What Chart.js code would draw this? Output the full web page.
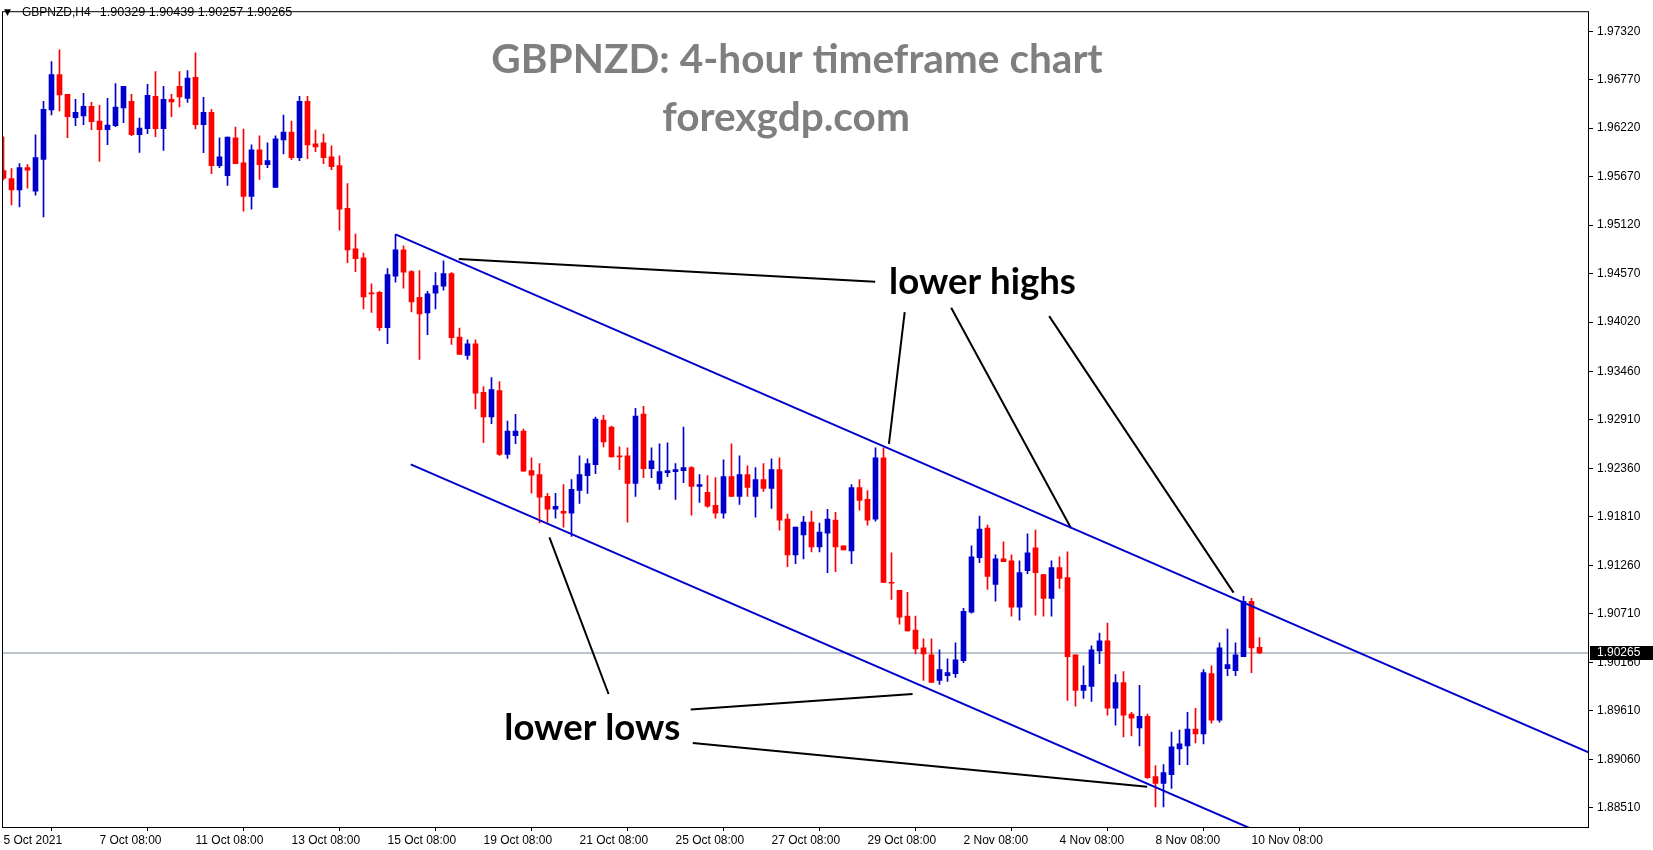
<!DOCTYPE html>
<html>
<head>
<meta charset="utf-8">
<script src="https://cdn.jsdelivr.net/npm/chart.js@4.4.0/dist/chart.umd.min.js"></script>
<style>
  html, body { margin: 0; padding: 0; background: #fff; }
  canvas { display: block; }
</style>
</head>
<body>
<canvas id="chart" width="1653" height="850"></canvas>
<script>
// GBPNZD H4, one entry per bar from 5 Oct 08:00 to 10 Nov 12:00
const opens = [
  1.95739, 1.95649, 1.95518, 1.95772, 1.95506, 1.95866, 1.96428, 1.96828, 1.96604, 1.96338,
  1.96360, 1.96469, 1.96300, 1.96203, 1.96248, 1.96450, 1.96525, 1.96147, 1.96214, 1.96581,
  1.96214, 1.96547, 1.96694, 1.96558, 1.96797, 1.96259, 1.96401, 1.95794, 1.95682, 1.96109,
  1.95828, 1.95446, 1.95974, 1.95806, 1.95547, 1.96087, 1.96176, 1.95884, 1.96525, 1.96042,
  1.96053, 1.95896, 1.95794, 1.95311, 1.94851, 1.94750, 1.94353, 1.94356, 1.93956, 1.94540,
  1.94839, 1.94592, 1.94300, 1.94124, 1.94349, 1.94427, 1.94570, 1.93851, 1.93641, 1.93772,
  1.93222, 1.92944, 1.93244, 1.92518, 1.92731, 1.92783, 1.92334, 1.92289, 1.92042, 1.91896,
  1.91873, 1.91851, 1.92109, 1.92278, 1.92402, 1.92907, 1.92828, 1.92503, 1.92503, 1.92188,
  1.92975, 1.92357, 1.92188, 1.92312, 1.92323, 1.92334, 1.92368, 1.92154, 1.92087, 1.91941,
  1.91851, 1.92267, 1.92042, 1.92289, 1.92042, 1.92233, 1.92132, 1.92345, 1.91784, 1.91379,
  1.91604, 1.91750, 1.91469, 1.91626, 1.91772, 1.91480, 1.91424, 1.92143, 1.92008, 1.91784,
  1.92480, 1.91065, 1.90975, 1.90683, 1.90526, 1.90324, 1.90245, 1.89953, 1.90009, 1.90031,
  1.90178, 1.90728, 1.91346, 1.91683, 1.91043, 1.91335, 1.91312, 1.90784, 1.91200, 1.91458,
  1.91155, 1.90885, 1.91234, 1.91121, 1.90245, 1.89841, 1.89886, 1.90290, 1.90402, 1.89638,
  1.89930, 1.89571, 1.89414, 1.89548, 1.88863, 1.88785, 1.88886, 1.89178, 1.89211, 1.89402,
  1.89346, 1.90032, 1.89504, 1.90088, 1.90065, 1.90223, 1.90852, 1.90329
];
const highs = [
  1.96121, 1.95761, 1.95817, 1.95806, 1.96143, 1.96525, 1.96974, 1.97109, 1.96604, 1.96547,
  1.96615, 1.96514, 1.96480, 1.96559, 1.96727, 1.96694, 1.96604, 1.96334, 1.96716, 1.96862,
  1.96694, 1.96604, 1.96862, 1.96873, 1.97075, 1.96570, 1.96435, 1.96109, 1.96120, 1.96233,
  1.96210, 1.96030, 1.96132, 1.96053, 1.96132, 1.96367, 1.96300, 1.96581, 1.96581, 1.96199,
  1.96154, 1.96019, 1.95907, 1.95592, 1.95019, 1.94802, 1.94454, 1.94368, 1.94626, 1.95015,
  1.94884, 1.94603, 1.94603, 1.94368, 1.94581, 1.94716, 1.94581, 1.93952, 1.93817, 1.93817,
  1.93289, 1.93390, 1.93345, 1.92896, 1.92974, 1.92806, 1.92480, 1.92413, 1.92076, 1.92076,
  1.92177, 1.92233, 1.92503, 1.92469, 1.92941, 1.92963, 1.92840, 1.92604, 1.92593, 1.93042,
  1.93064, 1.92593, 1.92637, 1.92649, 1.92413, 1.92828, 1.92379, 1.92289, 1.92278, 1.92255,
  1.92458, 1.92638, 1.92503, 1.92390, 1.92368, 1.92413, 1.92469, 1.92480, 1.91840, 1.91694,
  1.91817, 1.91874, 1.91739, 1.91896, 1.91862, 1.91480, 1.92177, 1.92233, 1.92109, 1.92593,
  1.92593, 1.91402, 1.90975, 1.90953, 1.90683, 1.90425, 1.90425, 1.90301, 1.90200, 1.90380,
  1.90773, 1.91481, 1.91818, 1.91717, 1.91380, 1.91526, 1.91380, 1.91312, 1.91616, 1.91661,
  1.91155, 1.91312, 1.91357, 1.91413, 1.90245, 1.90121, 1.90346, 1.90492, 1.90605, 1.90020,
  1.90054, 1.89593, 1.89897, 1.89571, 1.88987, 1.88998, 1.89369, 1.89391, 1.89593, 1.89638,
  1.90077, 1.90121, 1.90380, 1.90537, 1.90380, 1.90908, 1.90885, 1.90439
];
const lows = [
  1.95634, 1.95349, 1.95327, 1.95540, 1.95461, 1.95214, 1.96371, 1.96416, 1.96113, 1.96248,
  1.96259, 1.96203, 1.95843, 1.96034, 1.96237, 1.96282, 1.96136, 1.95945, 1.96158, 1.96124,
  1.95967, 1.96349, 1.96461, 1.96513, 1.96210, 1.95941, 1.95705, 1.95772, 1.95570, 1.95817,
  1.95278, 1.95300, 1.95637, 1.95772, 1.95547, 1.95929, 1.95862, 1.95851, 1.95873, 1.95952,
  1.95817, 1.95750, 1.95064, 1.94693, 1.94592, 1.94169, 1.94128, 1.93922, 1.93776, 1.94472,
  1.94405, 1.94135, 1.93596, 1.93877, 1.94169, 1.94383, 1.93765, 1.93652, 1.93596, 1.93034,
  1.92652, 1.92866, 1.92506, 1.92473, 1.92641, 1.92327, 1.92079, 1.91742, 1.91750, 1.91795,
  1.91694, 1.91589, 1.91963, 1.92076, 1.92300, 1.92604, 1.92491, 1.92345, 1.91750, 1.92042,
  1.92255, 1.92255, 1.92121, 1.92267, 1.92008, 1.92199, 1.91829, 1.91975, 1.91918, 1.91795,
  1.91795, 1.92042, 1.91952, 1.92042, 1.91806, 1.92098, 1.91907, 1.91660, 1.91244, 1.91278,
  1.91334, 1.91413, 1.91413, 1.91177, 1.91188, 1.91435, 1.91278, 1.91885, 1.91716, 1.91761,
  1.91065, 1.90874, 1.90593, 1.90515, 1.90256, 1.89953, 1.89930, 1.89908, 1.89942, 1.89987,
  1.90155, 1.90717, 1.91290, 1.90987, 1.90852, 1.91301, 1.90683, 1.90638, 1.91166, 1.90694,
  1.90683, 1.90683, 1.90998, 1.89728, 1.89661, 1.89751, 1.89717, 1.90144, 1.89560, 1.89447,
  1.89313, 1.89324, 1.89211, 1.88841, 1.88519, 1.88519, 1.88728, 1.88998, 1.88998, 1.89245,
  1.89234, 1.89470, 1.89481, 1.90009, 1.90009, 1.90223, 1.90043, 1.90257
];
const closes = [
  1.95652, 1.95518, 1.95772, 1.95742, 1.95885, 1.96435, 1.96828, 1.96596, 1.96349, 1.96401,
  1.96469, 1.96293, 1.96203, 1.96255, 1.96458, 1.96694, 1.96147, 1.96222, 1.96592, 1.96214,
  1.96547, 1.96518, 1.96574, 1.96788, 1.96259, 1.96401, 1.95794, 1.95896, 1.96120, 1.95817,
  1.95446, 1.95974, 1.95806, 1.95851, 1.96098, 1.96176, 1.95884, 1.96525, 1.96030, 1.96008,
  1.95884, 1.95783, 1.95300, 1.94839, 1.94738, 1.94304, 1.94340, 1.93956, 1.94559, 1.94839,
  1.94585, 1.94248, 1.94113, 1.94340, 1.94435, 1.94570, 1.93843, 1.93652, 1.93772, 1.93214,
  1.92944, 1.93255, 1.92518, 1.92783, 1.92783, 1.92327, 1.92282, 1.92034, 1.91896, 1.91930,
  1.91851, 1.92121, 1.92289, 1.92413, 1.92918, 1.92660, 1.92491, 1.92491, 1.92188, 1.92952,
  1.92357, 1.92446, 1.92323, 1.92334, 1.92345, 1.92368, 1.92154, 1.92177, 1.91930, 1.91851,
  1.92267, 1.92042, 1.92289, 1.92143, 1.92233, 1.92132, 1.92345, 1.91772, 1.91379, 1.91694,
  1.91750, 1.91469, 1.91638, 1.91784, 1.91469, 1.91435, 1.92143, 1.91997, 1.91772, 1.92480,
  1.91065, 1.91057, 1.90671, 1.90515, 1.90312, 1.90256, 1.89930, 1.90076, 1.90043, 1.90189,
  1.90739, 1.91357, 1.91672, 1.91133, 1.91335, 1.91301, 1.90784, 1.91177, 1.91402, 1.91177,
  1.90885, 1.91234, 1.91110, 1.90223, 1.89840, 1.89897, 1.90301, 1.90402, 1.89638, 1.89930,
  1.89560, 1.89526, 1.89548, 1.88852, 1.88785, 1.88908, 1.89200, 1.89234, 1.89402, 1.89346,
  1.90043, 1.89504, 1.90324, 1.90133, 1.90245, 1.90852, 1.90324, 1.90265
];

const xTickIdx = [0, 12, 24, 36, 48, 60, 72, 84, 96, 108, 120, 132, 144, 156];
const xTickLabels = ['5 Oct 2021', '7 Oct 08:00', '11 Oct 08:00', '13 Oct 08:00', '15 Oct 08:00',
  '19 Oct 08:00', '21 Oct 08:00', '25 Oct 08:00', '27 Oct 08:00', '29 Oct 08:00',
  '2 Nov 08:00', '4 Nov 08:00', '8 Nov 08:00', '10 Nov 08:00'];
const yTicks = [1.97320, 1.96770, 1.96220, 1.95670, 1.95120, 1.94570, 1.94020, 1.93460, 1.92910,
  1.92360, 1.91810, 1.91260, 1.90710, 1.90160, 1.89610, 1.89060, 1.88510];

// drawn objects, as [bar index, price] pairs
const upperChannel = [[49, 1.95015], [198.2, 1.89136]];
const lowerChannel = [[50.9, 1.92405], [156, 1.88270]];
const pointerLines = [
  [[56.91, 1.94735], [108.96, 1.94478]],
  [[112.65, 1.94134], [110.68, 1.92638]],
  [[118.46, 1.94183], [133.43, 1.91683]],
  [[130.71, 1.94087], [153.76, 1.90950]],
  [[75.63, 1.89800], [68.24, 1.91576]],
  [[85.90, 1.89623], [113.63, 1.89799]],
  [[86.16, 1.89243], [142.96, 1.88747]]
];
const notes = [
  { text: 'lower highs', at: [110.7, 1.94469] },
  { text: 'lower lows', at: [62.6, 1.89414] }
];
const symbolText = 'GBPNZD,H4';
const titleText = 'GBPNZD: 4-hour timeframe chart';
const siteText = 'forexgdp.com';

const BULL = '#0000cc';
const BEAR = '#ff0000';
const lastIdx = closes.length - 1;
const lastClose = closes[lastIdx];
const colors = closes.map((c, i) => c >= opens[i] ? BULL : BEAR);

const toXY = pts => pts.map(p => ({ x: p[0], y: p[1] }));
const lineSet = (pts, color) => ({
  type: 'line', data: toXY(pts), borderColor: color, borderWidth: 2,
  pointRadius: 0, tension: 0, order: 0
});

const datasets = [
  {
    type: 'bar', order: 1, grouped: false, barThickness: 5, minBarLength: 1,
    data: opens.map((o, i) => ({ x: i, y: [o, closes[i]] })),
    backgroundColor: colors
  },
  {
    type: 'bar', order: 2, grouped: false, barThickness: 1,
    data: lows.map((l, i) => ({ x: i, y: [l, highs[i]] })),
    backgroundColor: colors
  },
  {
    type: 'line', order: 3, borderColor: '#778899', borderWidth: 1, pointRadius: 0,
    data: [{ x: -1, y: lastClose }, { x: 200, y: lastClose }]
  },
  lineSet(upperChannel, '#0000cd'),
  lineSet(lowerChannel, '#0000cd'),
  ...pointerLines.map(p => lineSet(p, '#000000'))
];

const overlay = {
  id: 'overlay',
  afterDraw(chart) {
    const ctx = chart.ctx, a = chart.chartArea;
    const xs = chart.scales.x, ys = chart.scales.y;
    ctx.save();

    // frame
    ctx.strokeStyle = '#000';
    ctx.lineWidth = 1;
    ctx.strokeRect(a.left + 0.5, a.top + 0.5, a.right - a.left - 1, a.bottom - a.top);

    // header line
    ctx.fillStyle = '#000';
    ctx.textBaseline = 'middle';
    ctx.font = '9px "DejaVu Sans"';
    ctx.fillText('\u25BC', 4, 13);
    ctx.font = '12px "Liberation Sans"';
    ctx.fillText(symbolText, 22, 13);
    const priceX = Math.max(96, 22 + ctx.measureText(symbolText).width + 9);
    const ohlc = [opens[lastIdx], highs[lastIdx], lows[lastIdx], closes[lastIdx]]
      .map(v => v.toFixed(5)).join(' ');
    ctx.font = '12.6px "Liberation Sans"';
    ctx.fillText(ohlc, priceX, 13);

    // current price box on the axis
    const py = Math.round(ys.getPixelForValue(lastClose));
    ctx.fillStyle = '#000';
    ctx.fillRect(a.right + 1, py - 7, chart.width - a.right - 1, 14);
    ctx.fillStyle = '#fff';
    ctx.font = '12px "Liberation Sans"';
    ctx.fillText(lastClose.toFixed(5), a.right + 8, py);

    // title
    ctx.fillStyle = '#7f7f7f';
    ctx.textAlign = 'center';
    ctx.textBaseline = 'alphabetic';
    ctx.font = 'bold 40px Lato';
    const ts = 40 * 612 / ctx.measureText(titleText).width;
    ctx.font = 'bold ' + ts.toFixed(1) + 'px Lato';
    ctx.fillText(titleText, 797, 73);
    ctx.fillText(siteText, 786, 131);

    // notes
    ctx.fillStyle = '#000';
    ctx.textAlign = 'left';
    ctx.textBaseline = 'middle';
    ctx.font = 'bold 30px Lato';
    const ns = 30 * 187 / ctx.measureText(notes[0].text).width;
    ctx.font = 'bold ' + ns.toFixed(1) + 'px Lato';
    notes.forEach(n => {
      ctx.fillText(n.text, xs.getPixelForValue(n.at[0]), ys.getPixelForValue(n.at[1]));
    });
    ctx.restore();
  }
};

new Chart(document.getElementById('chart'), {
  type: 'bar',
  data: { datasets },
  options: {
    responsive: false,
    animation: false,
    devicePixelRatio: 1,
    layout: { padding: { left: 2, top: 3, right: 0, bottom: 0 } },
    plugins: { legend: { display: false }, tooltip: { enabled: false } },
    scales: {
      x: {
        type: 'linear',
        offset: false,
        min: -0.1875,
        max: 198.1875,
        border: { display: false },
        grid: { drawOnChartArea: false, drawTicks: true, tickLength: 4, color: '#000' },
        afterBuildTicks: s => { s.ticks = xTickIdx.map(v => ({ value: v })); },
        afterFit: s => { s.height = 23; },
        ticks: {
          autoSkip: false, maxRotation: 0, align: 'start', padding: 2, color: '#000',
          font: { family: 'Liberation Sans', size: 12 },
          callback: v => xTickLabels[xTickIdx.indexOf(v)]
        }
      },
      y: {
        type: 'linear',
        position: 'right',
        min: 1.88291,
        max: 1.97547,
        border: { display: false },
        grid: { drawOnChartArea: false, drawTicks: true, tickLength: 4, color: '#000' },
        afterBuildTicks: s => { s.ticks = yTicks.map(v => ({ value: v })); },
        afterFit: s => { s.width = 64; },
        ticks: {
          autoSkip: false, padding: 4, color: '#000',
          font: { family: 'Liberation Sans', size: 12 },
          callback: v => v.toFixed(5)
        }
      }
    }
  },
  plugins: [overlay]
});
</script>
</body>
</html>
